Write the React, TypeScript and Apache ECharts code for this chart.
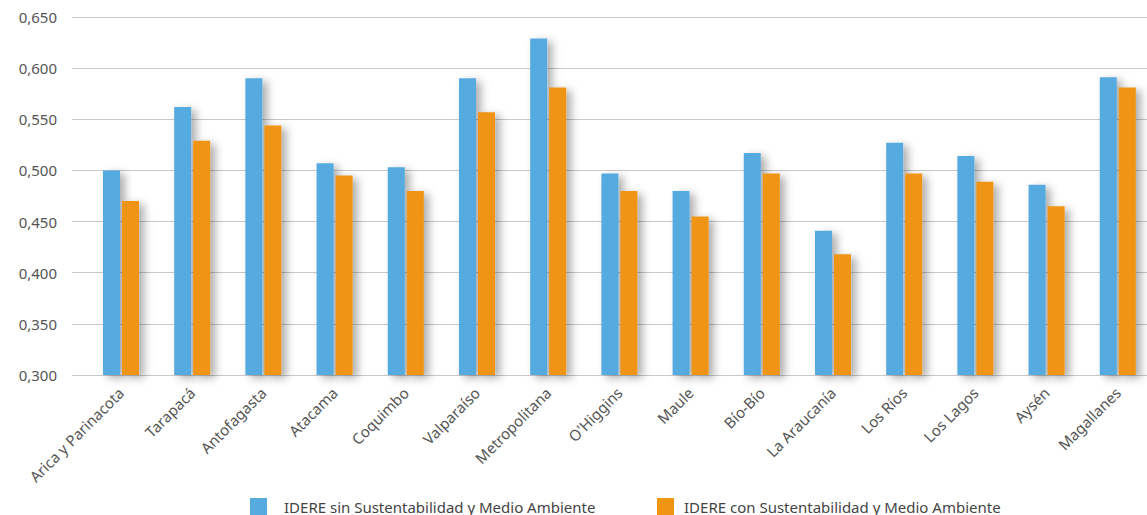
import React, { useEffect, useRef } from "react";
import * as echarts from "echarts";

const categories = [
  "Arica y Parinacota", "Tarapacá", "Antofagasta", "Atacama", "Coquimbo",
  "Valparaíso", "Metropolitana", "O'Higgins", "Maule", "Bío-Bío",
  "La Araucanía", "Los Ríos", "Los Lagos", "Aysén", "Magallanes",
];
const sinSustentabilidad = [0.500, 0.562, 0.590, 0.507, 0.503, 0.590, 0.629, 0.497, 0.480, 0.517, 0.441, 0.527, 0.514, 0.486, 0.591];
const conSustentabilidad = [0.470, 0.529, 0.544, 0.495, 0.480, 0.557, 0.581, 0.480, 0.455, 0.497, 0.418, 0.497, 0.489, 0.465, 0.581];
const seriesNames = ["IDERE sin Sustentabilidad y Medio Ambiente", "IDERE con Sustentabilidad y Medio Ambiente"];
const yMin = 0.3;
const yMax = 0.65;
const yInterval = 0.05;

const FONT = "Noto Sans";
const BLUE = "#55AADF";
const ORANGE = "#F09414";

export default function App() {
  const ref = useRef<HTMLDivElement>(null);
  useEffect(() => {
    if (!ref.current) return;
    const chart = echarts.init(ref.current, null, { renderer: "svg" });
    const barShadow = {
      shadowColor: "rgba(0,0,0,0.32)",
      shadowBlur: 8,
      shadowOffsetX: 5,
      shadowOffsetY: 3,
    };
    chart.setOption({
      animation: false,
      backgroundColor: "#ffffff",
      textStyle: { fontFamily: FONT },
      grid: [
        { left: 72, right: 13, top: 17, height: 358 },
        { left: 85.4, right: 6.6, top: 17, height: 358 },
      ],
      legend: [
        {
          left: 250, top: 498, padding: 0,
          data: [seriesNames[0]], icon: "rect", itemWidth: 17, itemHeight: 17,
          textStyle: { fontFamily: FONT, fontSize: 15, color: "#444", padding: [0, 0, 0, 12] },
        },
        {
          left: 657, top: 498, padding: 0,
          data: [seriesNames[1]], icon: "rect", itemWidth: 17, itemHeight: 17,
          textStyle: { fontFamily: FONT, fontSize: 15, color: "#444", padding: [0, 0, 0, 5] },
        },
      ],
      xAxis: [
        { gridIndex: 0, type: "value", show: false, min: 0, max: 1 },
        {
          gridIndex: 1, type: "category", data: categories, boundaryGap: true,
          axisLine: { show: false }, axisTick: { show: false },
          axisLabel: { rotate: 45, fontFamily: FONT, fontSize: 15, color: "#555", margin: 15, interval: 0 },
        },
      ],
      yAxis: [
        {
          gridIndex: 0, type: "value", min: yMin, max: yMax, interval: yInterval,
          axisLine: { show: false }, axisTick: { show: false },
          splitLine: { show: true, lineStyle: { color: "#c8c8c8", width: 1.2 } },
          axisLabel: {
            fontFamily: FONT, fontSize: 15, color: "#555", margin: 15,
            formatter: (v: number) => v.toFixed(3).replace(".", ","),
          },
        },
        {
          gridIndex: 1, type: "value", min: yMin, max: yMax, interval: yInterval, show: false,
          splitLine: { show: false },
        },
      ],
      series: [
        {
          name: seriesNames[0], type: "bar", xAxisIndex: 1, yAxisIndex: 1,
          data: sinSustentabilidad, barWidth: 17, barGap: "12%",
          itemStyle: { color: BLUE, ...barShadow },
        },
        {
          name: seriesNames[1], type: "bar", xAxisIndex: 1, yAxisIndex: 1,
          data: conSustentabilidad, barWidth: 17, barGap: "12%",
          itemStyle: { color: ORANGE, ...barShadow },
        },
      ],
    });
    return () => chart.dispose();
  }, []);
  return (
    <div
      ref={ref}
      style={{ position: "fixed", left: 0, top: 0, width: 1160, height: 515 }}
    />
  );
}
